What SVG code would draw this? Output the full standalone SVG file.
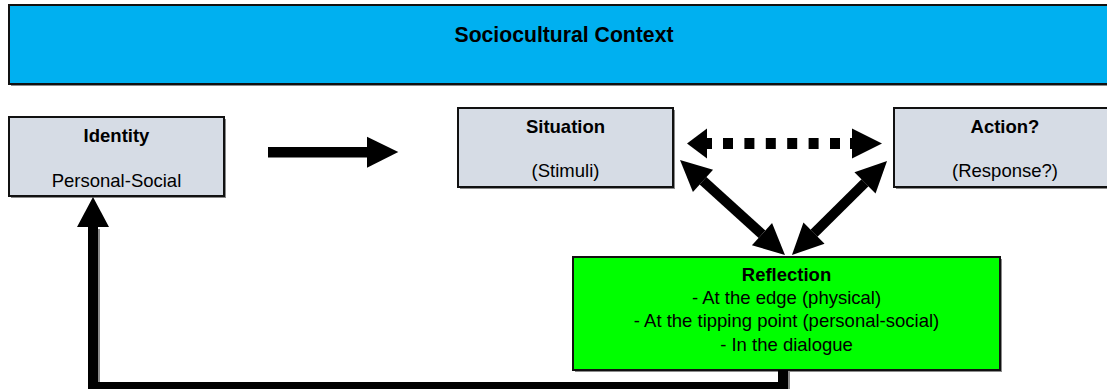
<svg xmlns="http://www.w3.org/2000/svg" width="1107" height="389" viewBox="0 0 1107 389">
  <defs>
    <style>
      .box { stroke: #111; stroke-width: 2; }
      .shadow { fill: #8a8a8a; }
      .grey { fill: #D6DCE5; }
      text { font-family: "Liberation Sans", Arial, sans-serif; font-size: 18.5px; fill: #000; text-anchor: middle; }
      .b { font-weight: bold; }
      .conn { stroke: #000; stroke-width: 10; fill: none; }
    </style>
    <marker id="head" markerUnits="userSpaceOnUse" markerWidth="32" markerHeight="32" refX="0" refY="15" orient="auto-start-reverse" overflow="visible">
      <path d="M0,0 L31,15 L0,30 z" fill="#000"/>
    </marker>
  </defs>

  <g id="context">
    <rect class="shadow" x="11" y="7" width="1112" height="79"/>
    <rect class="box" x="9" y="5" width="1112" height="79" fill="#00B0F0" stroke-width="2.5"/>
    <text class="b" x="564" y="41.7" style="font-size:21.2px">Sociocultural Context</text>
  </g>

  <g id="identity">
    <rect class="shadow" x="11" y="119" width="215" height="79"/>
    <rect class="box grey" x="9" y="117" width="215" height="79"/>
    <text class="b" x="116.5" y="142">Identity</text>
    <text x="116.5" y="187">Personal-Social</text>
  </g>

  <g id="situation">
    <rect class="shadow" x="460" y="110" width="215" height="79"/>
    <rect class="box grey" x="458" y="108" width="215" height="79"/>
    <text class="b" x="565.5" y="133">Situation</text>
    <text x="565.5" y="176.5">(Stimuli)</text>
  </g>

  <g id="action">
    <rect class="shadow" x="896" y="110" width="222" height="79"/>
    <rect class="box grey" x="894" y="108" width="222" height="79"/>
    <text class="b" x="1005" y="133">Action?</text>
    <text x="1005" y="176.5">(Response?)</text>
  </g>

  <g id="reflection">
    <rect class="shadow" x="575" y="259" width="427" height="113"/>
    <rect class="box" x="573" y="257" width="427" height="113" fill="#00FF00"/>
    <text class="b" x="786.5" y="280.5">Reflection</text>
    <text x="786.5" y="304">- At the edge (physical)</text>
    <text x="786.5" y="327.3">- At the tipping point (personal-social)</text>
    <text x="786.5" y="350.6">- In the dialogue</text>
  </g>

  <g id="connectors">
    <rect x="268" y="147" width="99" height="10.5" fill="#000"/>
    <polygon points="367,136.7 398.3,152 367,167.7" fill="#000"/>

    <polygon points="687,143.5 707,128.5 707,158.5" fill="#000"/>
    <rect x="706" y="138" width="6" height="11" fill="#000"/>
    <line x1="723" y1="143.5" x2="840" y2="143.5" stroke="#000" stroke-width="11" stroke-dasharray="10 11.4"/>
    <rect x="850" y="138" width="3" height="11" fill="#000"/>
    <polygon points="852,128.5 882,143.5 852,158.5" fill="#000"/>

    <line class="conn" x1="703" y1="180.8" x2="762" y2="234.2" marker-start="url(#head)" marker-end="url(#head)"/>
    <line class="conn" x1="814" y1="233.2" x2="865" y2="182.8" marker-start="url(#head)" marker-end="url(#head)"/>

    <polyline points="785,372 785,389 95,389 95,229" stroke="#8a8a8a" stroke-width="10" fill="none"/>
    <polyline points="783,370 783,387 93,387 93,226" class="conn" stroke-linejoin="miter"/>
    <polygon points="93,197 77,227 109,227" fill="#000"/>
  </g>
</svg>
